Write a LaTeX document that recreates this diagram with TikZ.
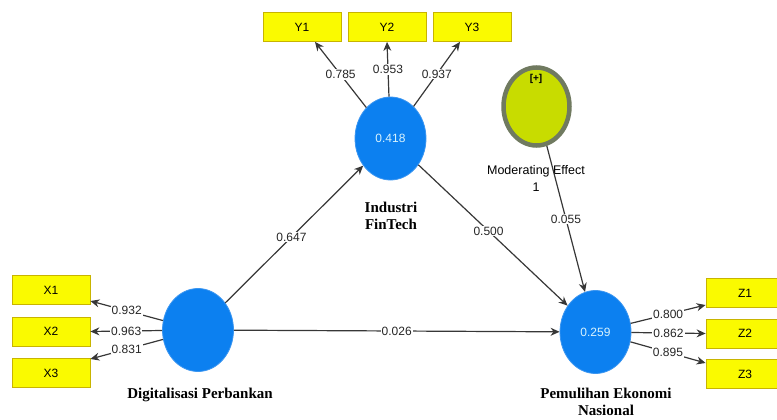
\documentclass[tikz,border=0pt]{standalone}
\usepackage{fontspec}
\setmainfont{Liberation Serif}
\setsansfont{Liberation Sans}
\usetikzlibrary{shapes.geometric,arrows.meta,calc}
\definecolor{indyellow}{RGB}{250,250,0}
\definecolor{indborder}{RGB}{200,180,0}
\definecolor{latblue}{RGB}{12,128,240}
\definecolor{latblueedge}{RGB}{60,150,240}
\definecolor{modfill}{RGB}{200,220,0}
\definecolor{modedge}{RGB}{112,122,96}
\definecolor{pathgray}{RGB}{55,55,55}
\begin{document}
\begin{tikzpicture}[x=1pt,y=-1pt,
  indicator/.style={draw=indborder,fill=indyellow,line width=0.8pt,
    minimum width=78pt,minimum height=29pt,inner sep=0pt,
    font=\sffamily\fontsize{12}{13}\selectfont},
  latent/.style={ellipse,draw=latblueedge,fill=latblue,line width=0.8pt,
    minimum width=71pt,minimum height=83pt,inner sep=0pt,
    text=cyan!15,font=\sffamily\fontsize{12}{13}\selectfont},
  moderator/.style={ellipse,draw=modedge,fill=modfill,line width=4.5pt,
    minimum width=66pt,minimum height=78pt,inner sep=0pt},
  lvname/.style={font=\bfseries\fontsize{15}{17}\selectfont,align=center},
  conn/.style={draw=pathgray,line width=1.2pt,-{Stealth[length=9pt,width=8pt]}},
  coef/.style={fill=white,inner sep=1pt,text=black!85,
    font=\sffamily\fontsize{12}{13}\selectfont}]
\clip (0,0) rectangle (777,420);
\useasboundingbox (0,0) rectangle (777,420);

% indicator boxes
\node[indicator] (y1) at (302,27) {Y1};
\node[indicator] (y2) at (387,27) {Y2};
\node[indicator] (y3) at (472,27) {Y3};
\node[indicator] (x1) at (51,290) {X1};
\node[indicator] (x2) at (51,331.5) {X2};
\node[indicator] (x3) at (51,373) {X3};
\node[indicator] (z1) at (745,293) {Z1};
\node[indicator] (z2) at (745,333.5) {Z2};
\node[indicator] (z3) at (745,374) {Z3};

% latent variables
\node[latent] (ind) at (390.5,138.5) {0.418};
\node[latent] (dig) at (198,330) {};
\node[latent] (pem) at (595.5,332) {0.259};
\node[moderator] (mod) at (536.5,106.5) {};
\node[font=\sffamily\bfseries\fontsize{10}{11}\selectfont] (modtag) at (536,79) {[+]};

% names of the constructs
\node[lvname] (indname) at (391,216) {Industri\\FinTech};
\node[lvname] (digname) at (200,395) {Digitalisasi Perbankan};
\node[lvname] (pemname) at (606,402) {Pemulihan Ekonomi\\Nasional};
\node[font=\sffamily\fontsize{12.5}{17}\selectfont,align=center] (modname) at (536,178) {Moderating Effect\\1};

% outer loadings
\draw[conn] (ind) -- node[coef]{0.785} ($(y1.south)+(13,0)$);
\draw[conn] (ind) -- node[coef]{0.953} (y2.south);
\draw[conn] (ind) -- node[coef]{0.937} ($(y3.south)+(-12,0)$);
\draw[conn] (dig) -- node[coef]{0.932} ($(x1.east)+(0,11)$);
\draw[conn] (dig) -- node[coef]{0.963} (x2.east);
\draw[conn] (dig) -- node[coef]{0.831} ($(x3.east)+(0,-14)$);
\draw[conn] (pem) -- node[coef]{0.800} ($(z1.west)+(0,12)$);
\draw[conn] (pem) -- node[coef]{0.862} (z2.west);
\draw[conn] (pem) -- node[coef]{0.895} ($(z3.west)+(0,-11)$);

% structural paths
\draw[conn] (dig) -- node[coef,pos=0.48]{0.647} (ind);
\draw[conn] (ind) -- node[coef,pos=0.47]{0.500} (pem);
\draw[conn] (dig) -- node[coef]{0.026} (pem);
\draw[conn] (mod) -- node[coef,pos=0.5]{0.055} (pem);
\end{tikzpicture}
\end{document}
